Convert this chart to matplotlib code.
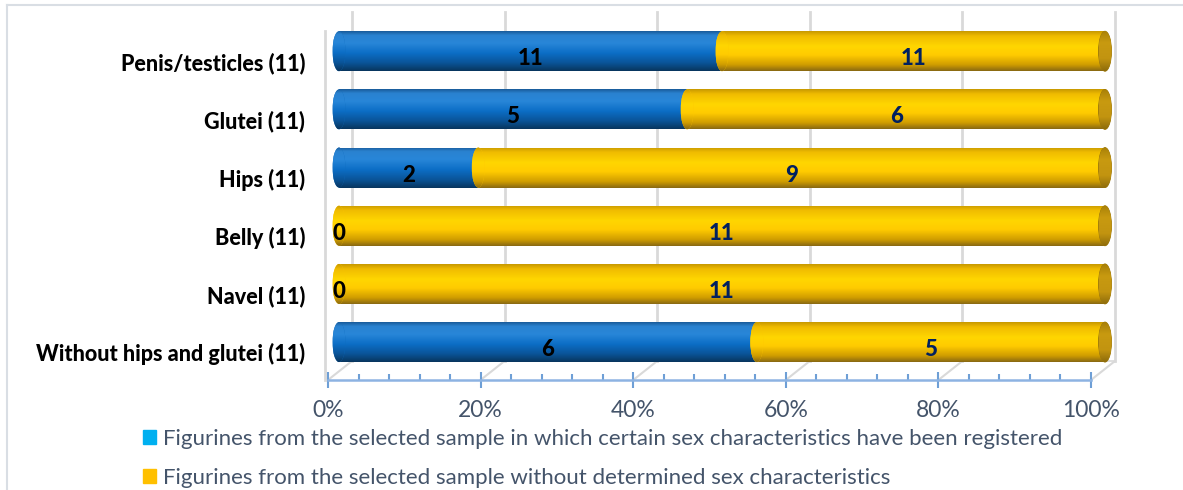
import numpy as np
import matplotlib
matplotlib.use("Agg")
import matplotlib.pyplot as plt
from matplotlib.patches import Ellipse, Patch
from matplotlib.lines import Line2D
from matplotlib.colors import to_rgb

# ---------------- data ----------------
categories = ["Penis/testicles (11)", "Glutei (11)", "Hips (11)", "Belly (11)",
              "Navel (11)", "Without hips and glutei (11)"]
registered = [11, 5, 2, 0, 0, 6]
undetermined = [11, 6, 9, 11, 11, 5]
series_names = ["Figurines from the selected sample in which certain sex characteristics have been registered",
                "Figurines from the selected sample without determined sex characteristics"]
x_ticks = [0, 20, 40, 60, 80, 100]
x_tick_labels = ["0%", "20%", "40%", "60%", "80%", "100%"]

# ---------------- style ----------------
plt.rcParams['font.family'] = ['Lato', 'DejaVu Sans']
W, H = 1183, 490
fig = plt.figure(figsize=(W / 100, H / 100), dpi=100)
ax_left, ax_right, ax_top, ax_bottom = 328, 1091, 31, 380
ax = fig.add_axes([ax_left / W, (H - ax_bottom) / H, (ax_right - ax_left) / W, (ax_bottom - ax_top) / H])
ax.patch.set_alpha(0)
YLO, YHI = -0.48, 5.52
px_x = (ax_right - ax_left) / 100.0
px_y = (ax_bottom - ax_top) / (YHI - YLO)

back_dx, back_dy = 24 / px_x, 19 / px_y
bar_dx, bar_dy = 11 / px_x, 10 / px_y
bar_scale = 766 / 763.0          # bars sit slightly deeper, so marginally wider
bar_h = 40 / px_y
cap_a = 6.5 / px_x

n = len(categories)
ypos = np.arange(n)[::-1].astype(float)
reg = np.array(registered, float)
und = np.array(undetermined, float)
tot = reg + und
pcts = [reg / tot * 100 * bar_scale, und / tot * 100 * bar_scale]
counts = [registered, undetermined]

grid_c = '#D9D9D9'
# back wall + floor
for v in x_ticks:
    ax.plot([v + back_dx] * 2, [YLO + back_dy, YHI + back_dy], color=grid_c, lw=2, zorder=1, clip_on=False)
    ax.plot([v, v + back_dx], [YLO, YLO + back_dy], color=grid_c, lw=1.5, zorder=1, clip_on=False)
ax.plot([back_dx, 100 + back_dx], [YLO + back_dy] * 2, color=grid_c, lw=1.2, zorder=1, clip_on=False)
ax.plot([-0.4, -0.4], [YLO, YHI], color=grid_c, lw=2, zorder=1, clip_on=False)


def make_grad(stops, n=64):
    pos = np.array([p for p, _ in stops])
    cols = np.array([to_rgb(c) for _, c in stops])
    t = np.linspace(0, 1, n)
    arr = np.stack([np.interp(t, pos, cols[:, k]) for k in range(3)], axis=-1)
    return arr[:, None, :]


grads = [
    make_grad([(0, '#1A5C9C'), (0.1, '#2A82D0'), (0.3, '#2886D8'), (0.55, '#0C6EC6'),
               (0.8, '#0A5498'), (1.0, '#08365F')]),
    make_grad([(0, '#C99A00'), (0.12, '#F0BC00'), (0.38, '#FFD600'), (0.6, '#FFCB00'),
               (0.85, '#CF9C00'), (1.0, '#8A6A12')]),
]
cap_grad = make_grad([(0, '#A88008'), (0.3, '#C89A10'), (0.7, '#C29410'), (1.0, '#8E6C0C')])
mids = ['#0F6DBF', '#FFC800']
label_colors = ['black', '#002060']

lefts = np.zeros(n)
for s in range(2):
    vals = pcts[s]
    z = 3 + s
    bars = ax.barh(ypos + bar_dy, vals, left=lefts + bar_dx, height=bar_h,
                   color=mids[s], linewidth=0, zorder=z, clip_on=False)
    for rect, val, l, y, c in zip(bars, vals, lefts, ypos, counts[s]):
        yc = y + bar_dy
        x0 = l + bar_dx
        if val > 0:
            im = ax.imshow(grads[s], extent=[x0, x0 + val, yc - bar_h / 2, yc + bar_h / 2],
                           aspect='auto', origin='upper', interpolation='bilinear', zorder=z + 0.01)
            im.set_clip_path(rect)
            e = Ellipse((x0, yc), 2 * cap_a, bar_h, facecolor=mids[s], lw=0, zorder=z + 0.02, clip_on=False)
            ax.add_patch(e)
            im2 = ax.imshow(grads[s], extent=[x0 - cap_a, x0 + cap_a, yc - bar_h / 2, yc + bar_h / 2],
                            aspect='auto', origin='upper', interpolation='bilinear', zorder=z + 0.03)
            im2.set_clip_path(e)
            im2.set_clip_box(fig.bbox)
        else:
            rect.set_visible(False)
        ax.text(x0 + val / 2, yc - 0.13, str(c), ha='center', va='center', fontsize=16,
                fontweight='black', color=label_colors[s], zorder=10)
    lefts = lefts + vals

for y, l in zip(ypos, lefts):
    yc = y + bar_dy
    cx = l + bar_dx
    e = Ellipse((cx, yc), 2 * cap_a, bar_h, facecolor='#C4960E', edgecolor='#9A760A', lw=0.6,
                zorder=6, clip_on=False)
    ax.add_patch(e)
    imc = ax.imshow(cap_grad, extent=[cx - cap_a, cx + cap_a, yc - bar_h / 2, yc + bar_h / 2],
                    aspect='auto', origin='upper', interpolation='bilinear', zorder=6.01)
    imc.set_clip_path(e)
    imc.set_clip_box(fig.bbox)

# axes
ax.set_xlim(0, 100)
ax.set_ylim(YLO, YHI)
ax.set_yticks(ypos)
ax.set_yticklabels(categories, fontweight='black', fontsize=15.5, color='black')
ax.tick_params(axis='y', length=0, pad=16.5)
ax.set_xticks(x_ticks)
ax.set_xticklabels(x_tick_labels)
ax.set_xticks(np.arange(0, 101, 4), minor=True)
axis_c = '#6E9FD6'
ax.tick_params(axis='x', which='major', direction='inout', length=11, width=1.5, color=axis_c,
               labelcolor='#44546A', labelsize=16.5, pad=9)
ax.tick_params(axis='x', which='minor', direction='in', length=4.5, width=1.5, color=axis_c)
for sp in ['top', 'right', 'left']:
    ax.spines[sp].set_visible(False)
ax.spines['bottom'].set_color('#8DB3E2')
ax.spines['bottom'].set_linewidth(1.8)

# legend
handles = [Patch(color='#00B0F0'), Patch(color='#FFC000')]
fig.legend(handles, series_names, loc='upper left', bbox_to_anchor=(143 / W, 1 - 429 / H),
           frameon=False, fontsize=16, handlelength=0.6, handleheight=0.6, handletextpad=0.3,
           labelspacing=0.85, borderpad=0, borderaxespad=0, labelcolor='#44546A')

# outer frame
border_c = '#D9DEE4'
fig.add_artist(Line2D([7 / W, 1], [1 - 5 / H] * 2, color=border_c, lw=1.5, transform=fig.transFigure))
fig.add_artist(Line2D([7 / W] * 2, [0, 1 - 5 / H], color=border_c, lw=1.5, transform=fig.transFigure))

fig.savefig('out.png', dpi=100)
